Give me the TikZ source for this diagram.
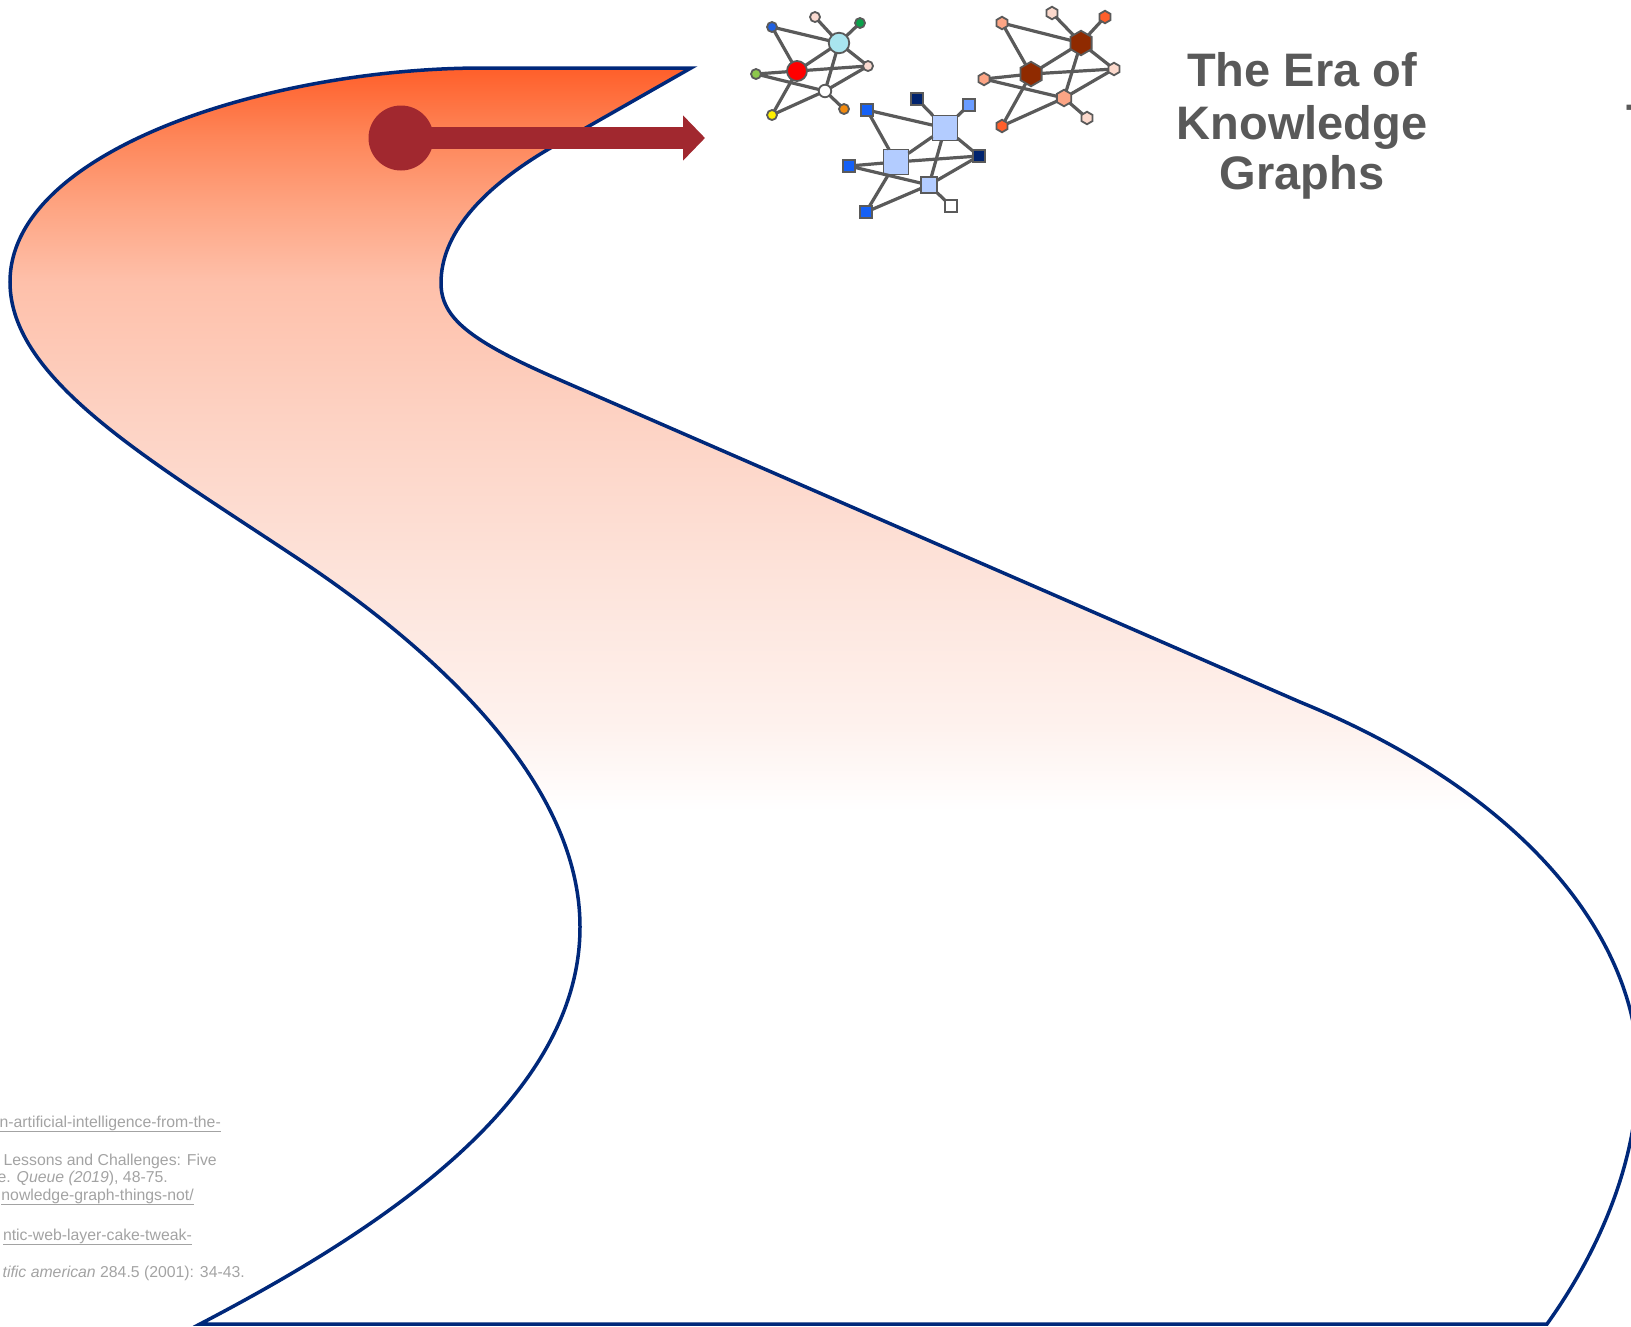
\documentclass[tikz,border=0pt]{standalone}
\usepackage{fontspec}
\setmainfont{Liberation Sans}
\usetikzlibrary{arrows.meta,shapes.geometric}

% palette
\definecolor{roadnavy}{HTML}{00287A}
\definecolor{roadtop}{HTML}{FF5F2A}
\definecolor{fadeA}{HTML}{FE8558}
\definecolor{fadeB}{HTML}{FEA583}
\definecolor{fadeC}{HTML}{FEC0AA}
\definecolor{fadeD}{HTML}{FDD2C3}
\definecolor{fadeE}{HTML}{FDE3DA}
\definecolor{fadeF}{HTML}{FEF2EE}
\definecolor{arrowred}{HTML}{A1282F}
\definecolor{edgegray}{HTML}{5A5A5A}
\definecolor{titlegray}{HTML}{595959}
\definecolor{refgray}{HTML}{A3A3A3}
% circle cluster
\definecolor{cblue}{HTML}{2060E0}
\definecolor{cpale}{HTML}{FADAD0}
\definecolor{cgreen}{HTML}{0AA14B}
\definecolor{ccyan}{HTML}{A9E5EF}
\definecolor{cred}{HTML}{FF0000}
\definecolor{clime}{HTML}{8DC74C}
\definecolor{cyellow}{HTML}{FFF000}
\definecolor{corange}{HTML}{F28A0E}
% square cluster
\definecolor{sblue}{HTML}{1560F5}
\definecolor{snavy}{HTML}{00236E}
\definecolor{ssky}{HTML}{6A9CFF}
\definecolor{slight}{HTML}{B3CCFF}
% hexagon cluster
\definecolor{hdark}{HTML}{8F2A00}
\definecolor{horange}{HTML}{FF5F2B}
\definecolor{hsalmon}{HTML}{FCA585}
\definecolor{hpale}{HTML}{FCD9CC}

% vertical fade of the winding road (bottom = 25bp, top = 75bp)
\pgfdeclareverticalshading{roadfade}{100bp}{color(0bp)=(white); color(45.4bp)=(white);
  color(48.7bp)=(fadeF); color(54.9bp)=(fadeE); color(61.1bp)=(fadeD);
  color(66.5bp)=(fadeC); color(69.4bp)=(fadeB); color(72.3bp)=(fadeA);
  color(75bp)=(roadtop); color(100bp)=(roadtop)}

\begin{document}
\begin{tikzpicture}[x=1pt,y=-1pt,
  edge/.style={draw=edgegray, line width=3.2pt},
  gn/.style={draw=edgegray, line width=1.8pt, inner sep=0pt, outer sep=0pt},
  dotn/.style={gn, circle, minimum size=#1},
  boxn/.style={gn, rectangle, minimum size=#1},
  hexn/.style={gn, regular polygon, regular polygon sides=6, shape border rotate=30, minimum size=#1},
  title/.style={text=titlegray, font=\fontsize{47}{50}\selectfont\bfseries, inner sep=0pt, anchor=base},
  refs/.style={text=refgray, font=\fontsize{15.8}{18}\selectfont, inner sep=0pt, anchor=base east}]
\useasboundingbox (0,0) rectangle (1631,1326);

% winding road
\shadedraw[shading=roadfade, draw=roadnavy, line width=3.5pt]
  (691,68) -- (483,68)
  .. controls (270,68) and (10,150) .. (10,282)
  .. controls (10,380) and (150,460) .. (300,560)
  .. controls (450,660) and (580,790) .. (580,927)
  .. controls (580,1100) and (380,1230) .. (200,1324)
  -- (1547,1324)
  .. controls (1600,1250) and (1638,1160) .. (1638,1070)
  .. controls (1638,950) and (1540,800) .. (1300,702)
  -- (560,380)
  .. controls (470,341) and (441,318) .. (441,283)
  .. controls (441,235) and (480,190) .. (547,150)
  -- cycle;

% start marker and arrow
\node[circle, fill=arrowred, minimum size=65pt, inner sep=0pt] (knob) at (401,138) {};
\coordinate (tip) at (705,138);
\draw[line width=22pt, draw=arrowred, fill=arrowred, -{Triangle[length=22pt, width=44pt]}] (knob.center) -- (tip);

% circle graph
\node[dotn=10pt, fill=cblue] (c1) at (772,27) {};
\node[dotn=10pt, fill=cpale] (c2) at (815,17) {};
\node[dotn=10pt, fill=cgreen] (c3) at (860,23) {};
\node[dotn=20.5pt, fill=ccyan] (c4) at (839,43) {};
\node[dotn=20pt, fill=cred] (c5) at (797,71) {};
\node[dotn=10pt, fill=cpale] (c6) at (868,66) {};
\node[dotn=10pt, fill=clime] (c7) at (756,74) {};
\node[dotn=12.5pt, fill=white] (c8) at (825,91) {};
\node[dotn=10pt, fill=cyellow] (c9) at (772,115) {};
\node[dotn=10pt, fill=corange] (c10) at (844,109) {};
\foreach \a/\b in {c1/c4, c1/c5, c2/c4, c3/c4, c4/c5, c4/c6, c4/c8, c5/c6,
                   c5/c7, c5/c9, c7/c8, c9/c8, c8/c6, c8/c10}
  \draw[edge] (\a) -- (\b);

% square graph
\node[boxn=12pt, fill=sblue] (s1) at (867,110) {};
\node[boxn=12pt, fill=snavy] (s2) at (917,99) {};
\node[boxn=12pt, fill=ssky] (s3) at (969,105) {};
\node[boxn=25pt, fill=slight] (sA) at (945,128) {};
\node[boxn=25pt, fill=slight] (sB) at (896,162) {};
\node[boxn=12pt, fill=snavy] (s4) at (979,156) {};
\node[boxn=12pt, fill=sblue] (s5) at (849,166) {};
\node[boxn=16.5pt, fill=slight] (sC) at (929,185) {};
\node[boxn=12pt, fill=sblue] (s6) at (866,212) {};
\node[boxn=12pt, fill=white] (s7) at (951,206) {};
\foreach \a/\b in {s1/sA, s1/sB, s2/sA, s3/sA, sA/sB, sA/s4, sA/sC, sB/s4,
                   sB/s5, s5/sC, sB/s6, sC/s6, sC/s4, sC/s7}
  \draw[edge] (\a) -- (\b);

% hexagon graph
\node[hexn=12.5pt, fill=hsalmon] (h1) at (1002,23) {};
\node[hexn=12.5pt, fill=hpale] (h2) at (1052,13) {};
\node[hexn=12.5pt, fill=horange] (h3) at (1105,17) {};
\node[hexn=24.5pt, fill=hdark] (hD) at (1081,43) {};
\node[hexn=24.5pt, fill=hdark] (hE) at (1031,74) {};
\node[hexn=12.5pt, fill=hpale] (h4) at (1114,69) {};
\node[hexn=12.5pt, fill=hsalmon] (h5) at (984,79) {};
\node[hexn=16.5pt, fill=hsalmon] (hF) at (1064,98) {};
\node[hexn=12.5pt, fill=hpale] (h6) at (1087,118) {};
\node[hexn=12.5pt, fill=horange] (h7) at (1002,126) {};
\foreach \a/\b in {h1/hD, h1/hE, h2/hD, h3/hD, hD/hE, hD/h4, hD/hF, hE/h4,
                   hE/h5, hE/h7, h5/hF, hF/h7, hF/h4, hF/h6}
  \draw[edge] (\a) -- (\b);

% title
\node[title] (t1) at (1302,86) {The Era of};
\node[title] (t2) at (1302,139) {Knowledge};
\node[title] (t3) at (1302,189) {Graphs};
\node[title, anchor=base west] (t4) at (1626,137) {T};

% references
\node[refs] (r1) at (221,1127) {\underline{n-artificial-intelligence-from-the-}};
\node[refs] (r2) at (217,1165) {Lessons and Challenges: Five};
\node[refs] (r3) at (168,1182) {e. \textit{Queue (2019}), 48-75.};
\node[refs] (r4) at (194,1200) {\underline{nowledge-graph-things-not/}};
\node[refs] (r5) at (192,1240) {\underline{ntic-web-layer-cake-tweak-}};
\node[refs] (r6) at (245,1277) {\textit{tific american} 284.5 (2001): 34-43.};
\end{tikzpicture}
\end{document}
